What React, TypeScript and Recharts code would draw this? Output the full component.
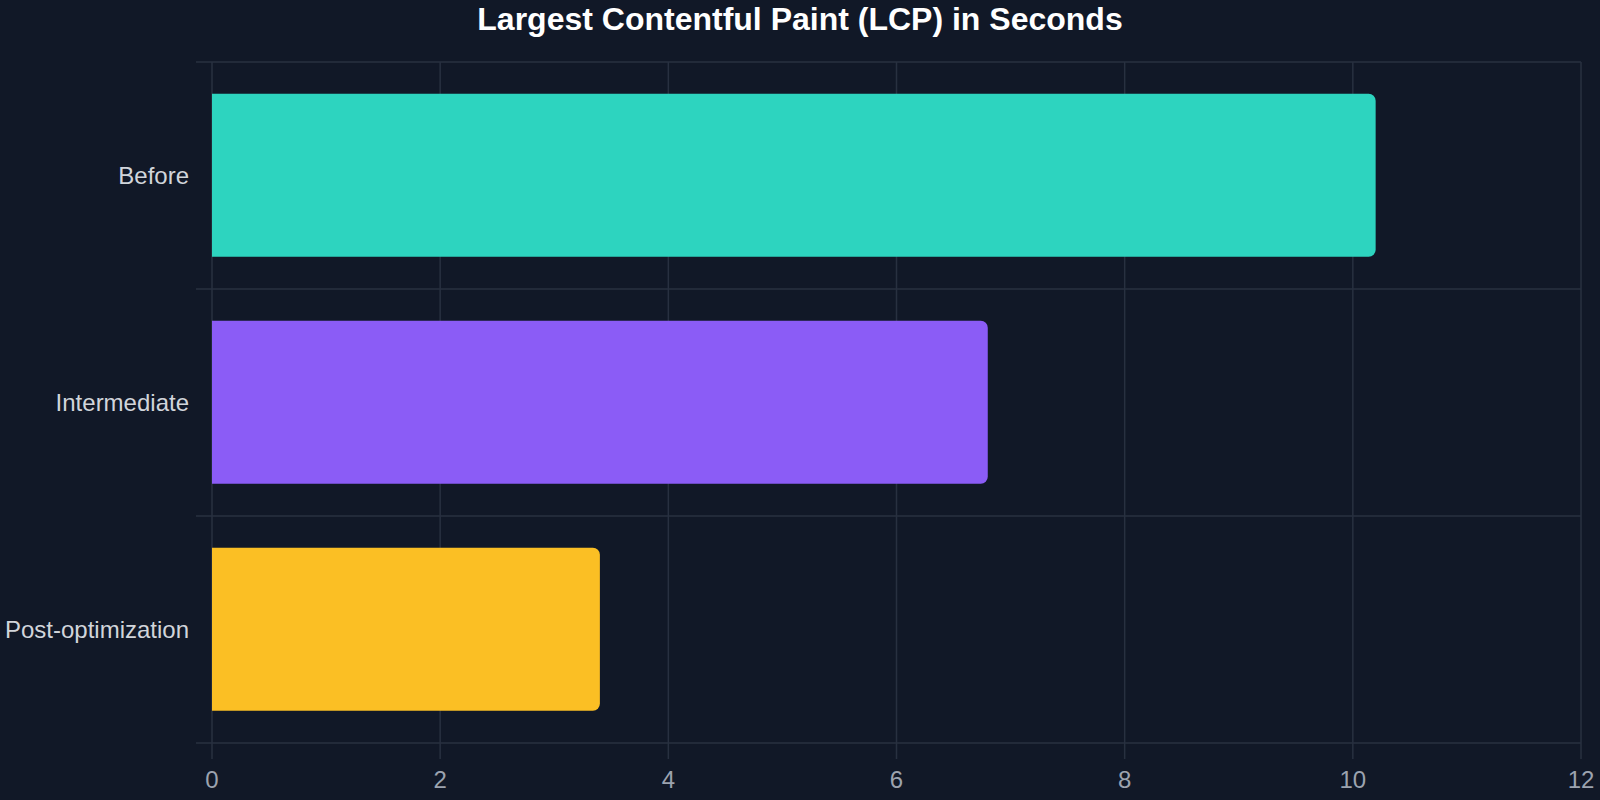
import React from 'react';
import { BarChart, Bar, XAxis, YAxis, CartesianGrid, Cell } from 'recharts';

const stages = ['Before', 'Intermediate', 'Post-optimization'];
const lcpSeconds = [10.2, 6.8, 3.4];
const barColors = ['#2dd4bf', '#8b5cf6', '#fbbf24'];
const xTicks = [0, 2, 4, 6, 8, 10, 12];

const data = stages.map((stage, i) => ({ stage, lcp: lcpSeconds[i] }));

const GRID = '#283040';
const FONT = '"Liberation Sans", Arial, sans-serif';
const TOP = 62;
const AXIS_H = 57;
const PLOT_H = 800 - TOP - AXIS_H;
const BAND = PLOT_H / stages.length;
const LABEL_GAP = 23;
const STUB = 16;

// category label plus the short boundary stubs that stick out left of the plot
function StageTick(props: any) {
  const { x, y, payload, index } = props;
  const right = x + LABEL_GAP;
  return (
    <g>
      <line x1={right - STUB} x2={right} y1={y - BAND / 2} y2={y - BAND / 2} stroke={GRID} strokeWidth={1.5} />
      {index === stages.length - 1 && (
        <line x1={right - STUB} x2={right} y1={y + BAND / 2} y2={y + BAND / 2} stroke={GRID} strokeWidth={1.5} />
      )}
      <text x={x} y={y} dy="0.355em" textAnchor="end" fill="#d1d5db" fontSize={24} fontFamily={FONT}>
        {payload.value}
      </text>
    </g>
  );
}

export default function App() {
  return (
    <div style={{ position: 'absolute', left: 0, top: 0, width: 1600, height: 800, background: '#111827', fontFamily: FONT }}>
      <div
        style={{
          position: 'absolute',
          top: 0,
          left: 0,
          width: 1600,
          textAlign: 'center',
          color: '#ffffff',
          fontWeight: 700,
          fontSize: 32,
          lineHeight: '38px',
        }}
      >
        Largest Contentful Paint (LCP) in Seconds
      </div>
      <BarChart
        width={1600}
        height={800}
        data={data}
        layout="vertical"
        margin={{ top: TOP, right: 19, bottom: 0, left: 0 }}
        barCategoryGap="14%"
      >
        <CartesianGrid
          stroke={GRID}
          strokeWidth={1.5}
          horizontalCoordinatesGenerator={({ offset }: any) =>
            [0, 1, 2, 3].map((i) => offset.top + (i * offset.height) / stages.length)
          }
        />
        <XAxis
          type="number"
          domain={[0, 12]}
          ticks={xTicks}
          height={AXIS_H}
          axisLine={false}
          tickSize={16}
          tickLine={{ stroke: GRID, strokeWidth: 1.5 }}
          tickMargin={12}
          tick={{ fill: '#9ca3af', fontSize: 24, fontFamily: FONT }}
        />
        <YAxis
          type="category"
          dataKey="stage"
          width={212}
          axisLine={false}
          tickLine={false}
          tickSize={0}
          tickMargin={LABEL_GAP}
          tick={<StageTick />}
        />
        <Bar dataKey="lcp" radius={[0, 7, 7, 0]} isAnimationActive={false}>
          {data.map((d, i) => (
            <Cell key={d.stage} fill={barColors[i]} />
          ))}
        </Bar>
      </BarChart>
    </div>
  );
}
